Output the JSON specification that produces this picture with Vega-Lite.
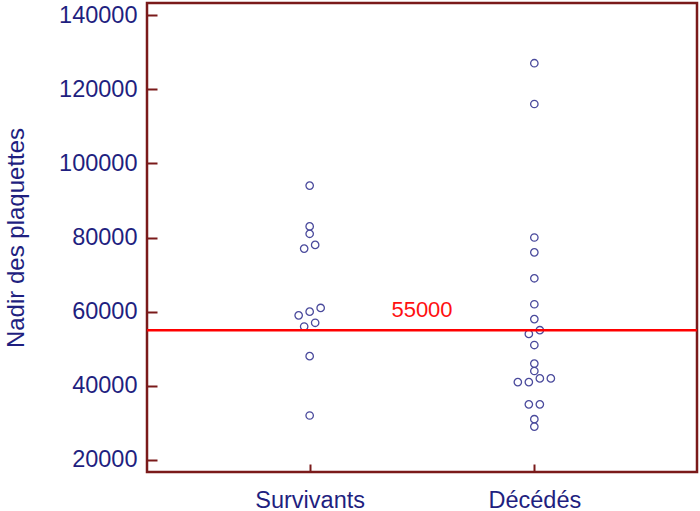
{
  "$schema": "https://vega.github.io/schema/vega-lite/v6.json",
  "width": 550,
  "height": 469,
  "autosize": "none",
  "padding": {"left": 147, "top": 3, "right": 3, "bottom": 39},
  "background": "white",
  "config": {
    "view": {"stroke": "#7a1a1a", "strokeWidth": 2.5},
    "font": "Liberation Sans",
    "axis": {"grid": false, "domain": false, "labelFont": "Liberation Sans", "titleFont": "Liberation Sans"}
  },
  "layer": [
    {
      "data": {
        "values": [
          {"groupe": "Survivants", "plaquettes": 94000},
          {"groupe": "Survivants", "plaquettes": 83000},
          {"groupe": "Survivants", "plaquettes": 81000},
          {"groupe": "Survivants", "plaquettes": 78000},
          {"groupe": "Survivants", "plaquettes": 77000},
          {"groupe": "Survivants", "plaquettes": 61000},
          {"groupe": "Survivants", "plaquettes": 60000},
          {"groupe": "Survivants", "plaquettes": 59000},
          {"groupe": "Survivants", "plaquettes": 57000},
          {"groupe": "Survivants", "plaquettes": 56000},
          {"groupe": "Survivants", "plaquettes": 48000},
          {"groupe": "Survivants", "plaquettes": 32000},
          {"groupe": "Décédés", "plaquettes": 127000},
          {"groupe": "Décédés", "plaquettes": 116000},
          {"groupe": "Décédés", "plaquettes": 80000},
          {"groupe": "Décédés", "plaquettes": 76000},
          {"groupe": "Décédés", "plaquettes": 69000},
          {"groupe": "Décédés", "plaquettes": 62000},
          {"groupe": "Décédés", "plaquettes": 58000},
          {"groupe": "Décédés", "plaquettes": 55000},
          {"groupe": "Décédés", "plaquettes": 54000},
          {"groupe": "Décédés", "plaquettes": 51000},
          {"groupe": "Décédés", "plaquettes": 46000},
          {"groupe": "Décédés", "plaquettes": 44000},
          {"groupe": "Décédés", "plaquettes": 42000},
          {"groupe": "Décédés", "plaquettes": 42000},
          {"groupe": "Décédés", "plaquettes": 41000},
          {"groupe": "Décédés", "plaquettes": 41000},
          {"groupe": "Décédés", "plaquettes": 35000},
          {"groupe": "Décédés", "plaquettes": 35000},
          {"groupe": "Décédés", "plaquettes": 31000},
          {"groupe": "Décédés", "plaquettes": 29000}
        ]
      },
      "transform": [
        {"window": [{"op": "lag", "field": "plaquettes", "as": "prev"}], "groupby": ["groupe"], "sort": [{"field": "plaquettes", "order": "ascending"}]},
        {"calculate": "datum.prev == null || datum.plaquettes - datum.prev > 1500 ? 1 : 0", "as": "brk"},
        {"window": [{"op": "sum", "field": "brk", "as": "cluster"}], "groupby": ["groupe"], "sort": [{"field": "plaquettes", "order": "ascending"}], "frame": [null, 0]},
        {"window": [{"op": "row_number", "as": "k"}, {"op": "count", "as": "n"}], "groupby": ["groupe", "cluster"], "sort": [{"field": "plaquettes", "order": "ascending"}], "frame": [null, null]},
        {"calculate": "datum.k - (datum.n + 1) / 2", "as": "slot"}
      ],
      "mark": {"type": "point", "shape": "circle", "filled": false, "size": 55, "strokeWidth": 1.3, "color": "#4a4a9c", "opacity": 1},
      "encoding": {
        "x": {
          "field": "groupe", "type": "nominal", "sort": ["Survivants", "Décédés"],
          "scale": {"type": "point", "padding": 0.724},
          "axis": {"title": null, "tickSize": -8, "tickWidth": 2, "tickColor": "#7a1a1a", "labelPadding": 24, "labelFontSize": 23.5, "labelColor": "#1f1f80", "labelAngle": 0}
        },
        "xOffset": {"field": "slot", "type": "quantitative", "scale": {"domain": [-2, 2], "range": [-22, 22]}},
        "y": {
          "field": "plaquettes", "type": "quantitative",
          "scale": {"domain": [16760, 143240], "nice": false, "zero": false},
          "axis": {
            "title": "Nadir des plaquettes",
            "values": [20000, 30000, 40000, 50000, 60000, 70000, 80000, 90000, 100000, 110000, 120000, 130000, 140000],
            "format": "d",
            "labelExpr": "datum.value % 20000 === 0 ? datum.label : ''",
            "tickSize": {"condition": {"test": "datum.value % 20000 === 0", "value": -10}, "value": -6},
            "tickWidth": 2,
            "tickColor": "#7a1a1a",
            "labelPadding": 20,
            "labelFontSize": 23.5,
            "labelColor": "#1f1f80",
            "titleFontSize": 24,
            "titleFontWeight": "normal",
            "titleColor": "#1f1f80",
            "titlePadding": 30
          }
        }
      }
    },
    {
      "data": {"values": [{"seuil": 55000, "texte": "55000"}]},
      "layer": [
        {
          "mark": {"type": "rule", "color": "#ff0000", "strokeWidth": 2.5},
          "encoding": {"y": {"field": "seuil", "type": "quantitative"}}
        },
        {
          "mark": {"type": "text", "color": "#ff1010", "fontSize": 22, "font": "Liberation Sans", "align": "center", "baseline": "alphabetic", "dy": -13},
          "encoding": {"y": {"field": "seuil", "type": "quantitative"}, "text": {"field": "texte"}}
        }
      ]
    }
  ]
}
